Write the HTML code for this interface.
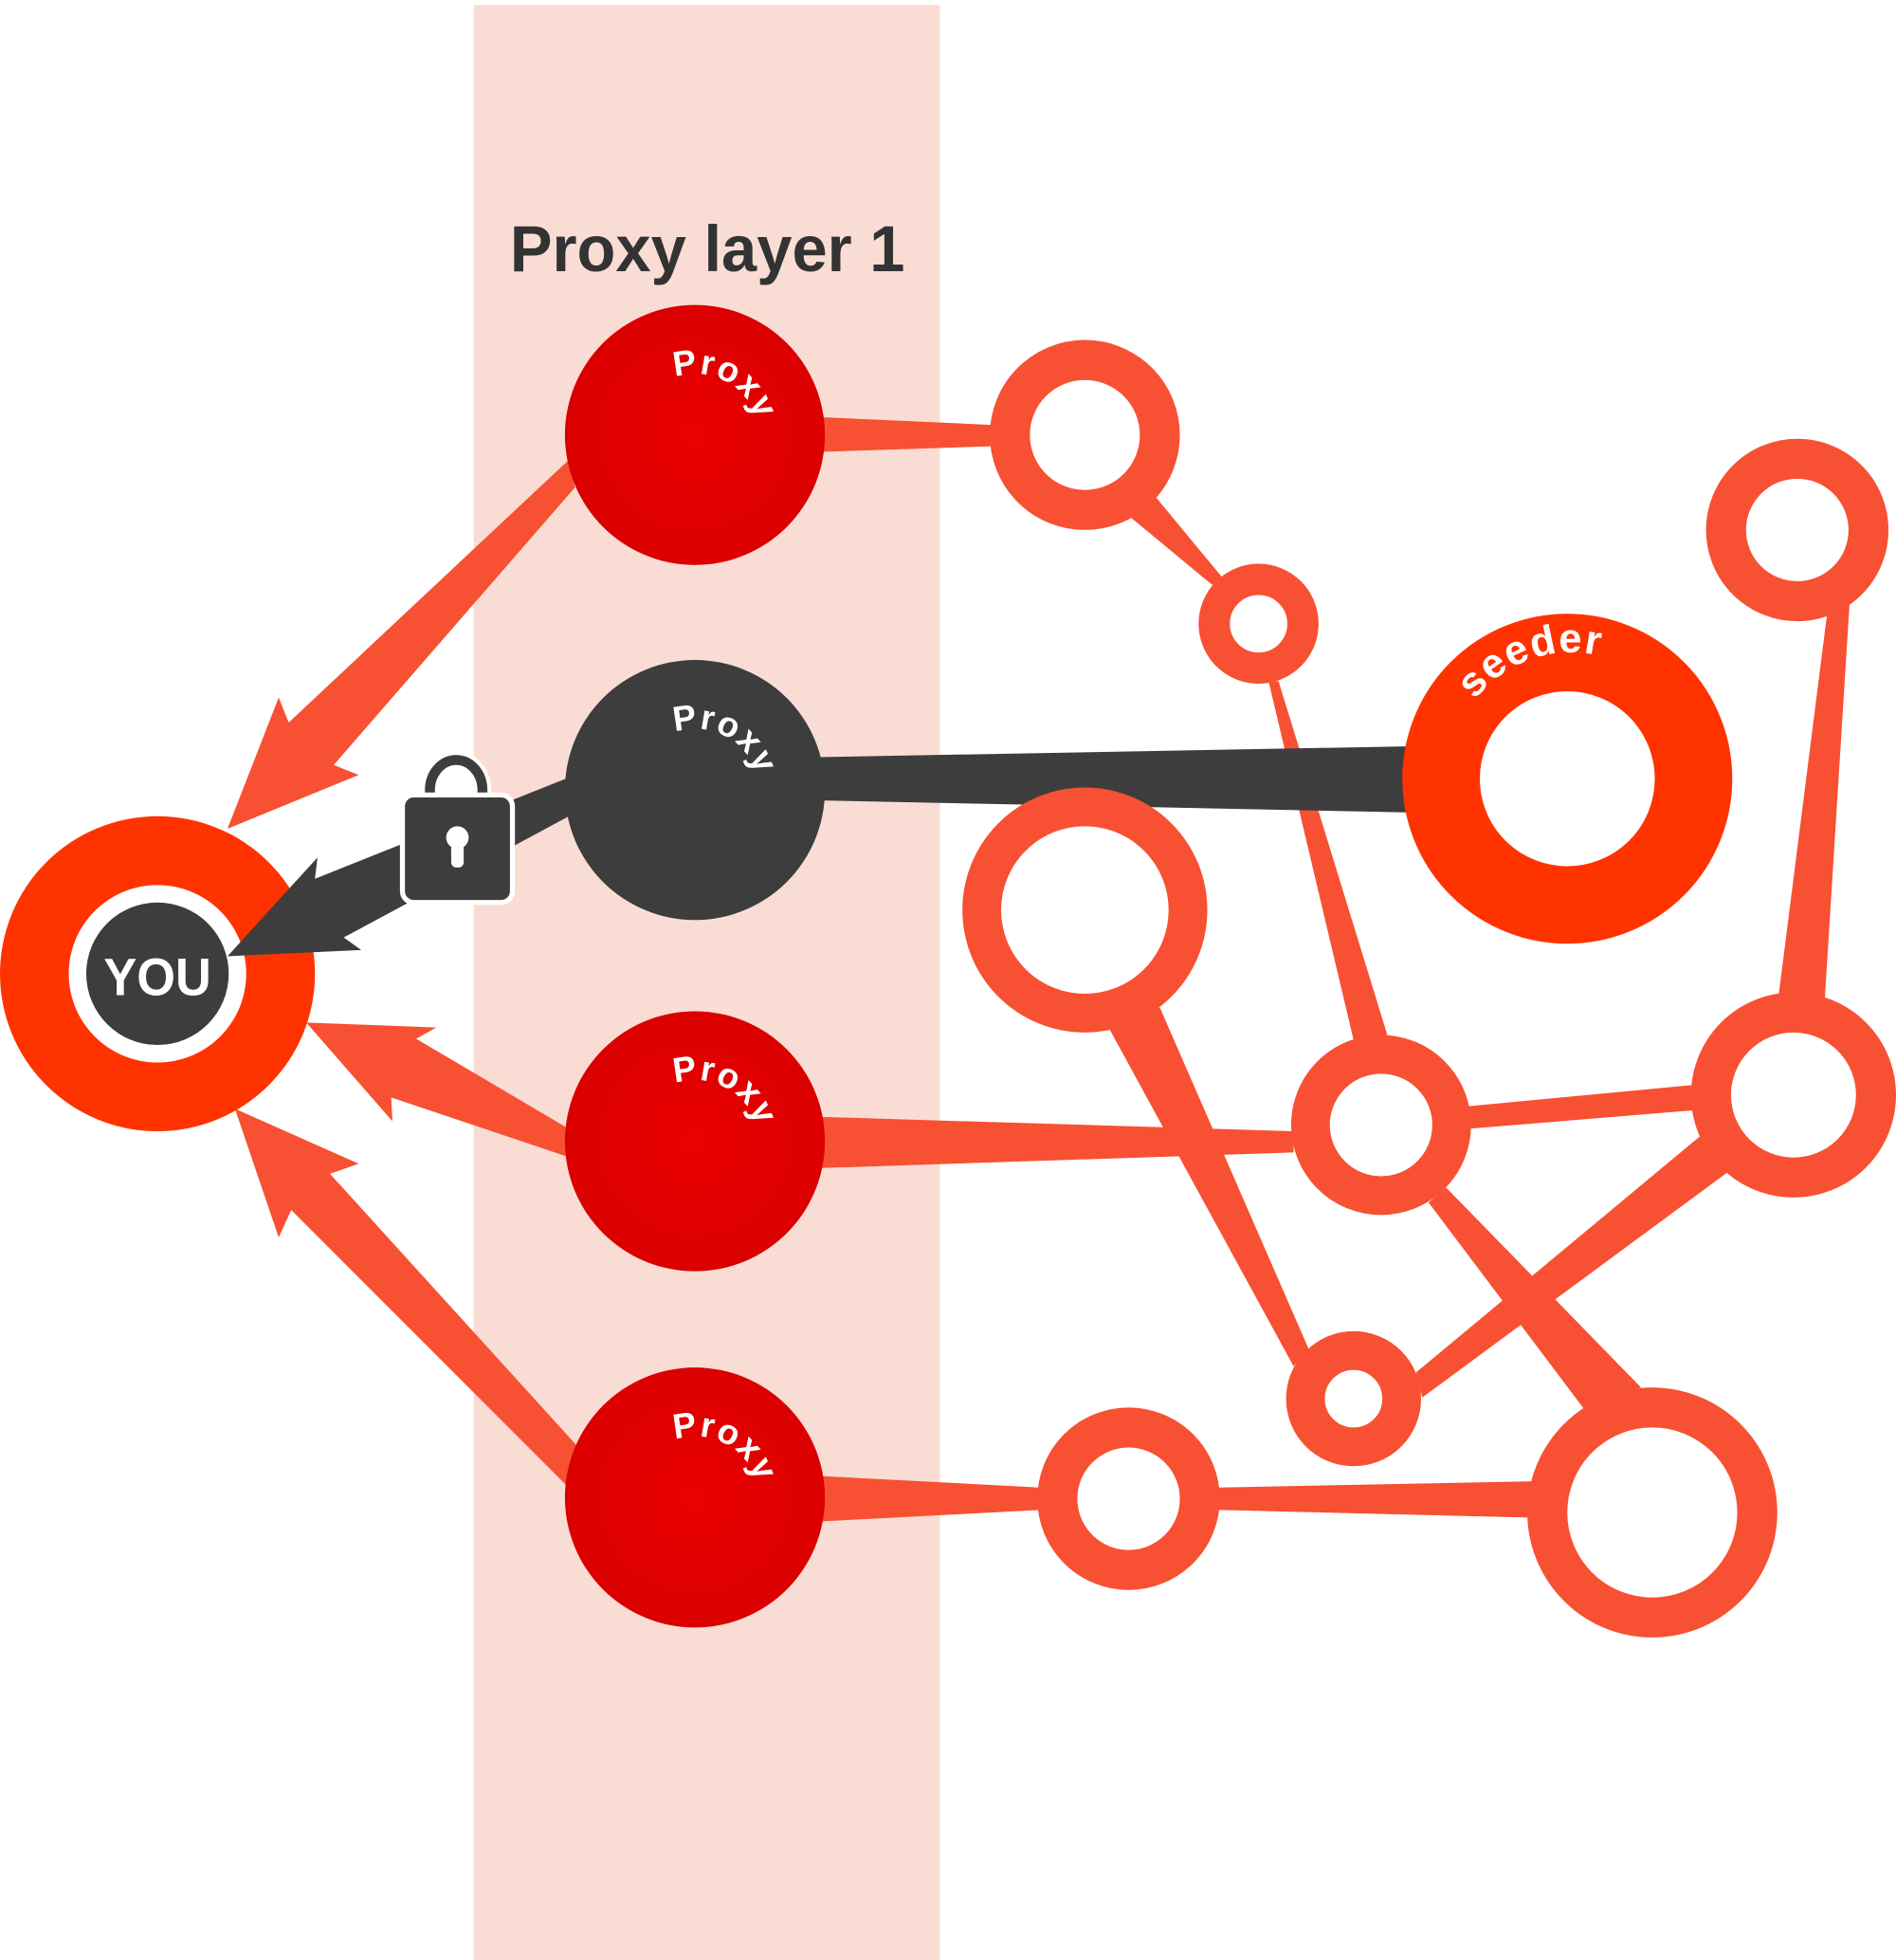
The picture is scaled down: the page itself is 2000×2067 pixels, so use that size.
<!DOCTYPE html>
<html><head><meta charset="utf-8"><style>
html,body{margin:0;padding:0;background:#fff;}
svg{display:block;}
</style></head><body>
<svg width="2000" height="2067" viewBox="0 0 1517 1568" preserveAspectRatio="none" xmlns="http://www.w3.org/2000/svg">
<defs>
<radialGradient id="rg" cx="0.5" cy="0.5" r="0.5">
<stop offset="0" stop-color="#ea0000"/><stop offset="1" stop-color="#db0000"/>
</radialGradient>
<path id="arcP1" d="M 540 302 A 50 50 0 0 1 606 340"/>
<path id="arcP2" d="M 540 586 A 50 50 0 0 1 606 624"/>
<path id="arcP3" d="M 540 867 A 50 50 0 0 1 606 905"/>
<path id="arcP4" d="M 540 1152 A 50 50 0 0 1 606 1190"/>
<path id="arcS" d="M 1180 560 A 97 97 0 0 1 1320 545"/>
</defs>
<rect x="379" y="4" width="373" height="1564" fill="#f9ddd5"/>
<text x="408" y="217" font-family="Liberation Sans, sans-serif" font-weight="bold" font-size="52" fill="#333" textLength="316" lengthAdjust="spacingAndGlyphs">Proxy layer 1</text>

<g fill="#f85032">
<polygon points="640,333 795,340 795,357 640,362"/>
<polygon points="900,410 925,398 978,462 970,468"/>
<polygon points="1015,545 1023,545 1110,828 1083,832"/>
<polygon points="1462,490 1480,480 1460,800 1422,805"/>
<polygon points="1175,885 1355,868 1358,888 1175,903"/>
<polygon points="640,893 1035,905 1035,922 640,935"/>
<polygon points="887,822 928,806 1047,1079 1035,1093"/>
<polygon points="1143,962 1157,950 1313,1110 1268,1128"/>
<polygon points="1133,1098 1365,905 1382,938 1138,1118"/>
<polygon points="640,1180 832,1190 832,1208 640,1218"/>
<polygon points="975,1190 1228,1185 1223,1214 975,1208"/>
<polygon points="460,390 267,612 287,620 182,663 223,558 231,578 455,368"/>
<polygon points="455,903 333,831 349,822 245,818 314,897 313,878 453,925"/>
<polygon points="462,1157 264,939 287,931 188,887 223,990 233,968 453,1188"/>
</g>
<polygon points="640,606 1130,597 1130,650 640,640" fill="#3d3d3d"/>

<!-- ring nodes -->
<g fill="#fff" stroke="#f85032">
<circle cx="868" cy="348" r="60" stroke-width="32"/>
<circle cx="1007" cy="499" r="35.5" stroke-width="25"/>
<circle cx="1438" cy="424" r="57" stroke-width="32"/>
<circle cx="868" cy="728" r="82.5" stroke-width="31"/>
<circle cx="1105" cy="900" r="56.5" stroke-width="31"/>
<circle cx="1435" cy="876" r="66" stroke-width="32"/>
<circle cx="1083" cy="1119" r="38.5" stroke-width="31"/>
<circle cx="903" cy="1199" r="57" stroke-width="32"/>
<circle cx="1322" cy="1210" r="84" stroke-width="32"/>
</g>
<circle cx="1254" cy="623" r="101" fill="#fff" stroke="#ff3300" stroke-width="62"/>
<text font-family="Liberation Sans, sans-serif" font-weight="bold" font-size="33" fill="#fff" letter-spacing="1"><textPath href="#arcS">seeder</textPath></text>

<!-- proxies -->
<circle cx="556" cy="348" r="104" fill="url(#rg)"/>
<circle cx="556" cy="632" r="104" fill="#3d3d3d"/>
<circle cx="556" cy="913" r="104" fill="url(#rg)"/>
<circle cx="556" cy="1198" r="104" fill="url(#rg)"/>
<g font-family="Liberation Sans, sans-serif" font-weight="bold" font-size="28" fill="#fff" letter-spacing="1">
<text><textPath href="#arcP1">Proxy</textPath></text>
<text><textPath href="#arcP2">Proxy</textPath></text>
<text><textPath href="#arcP3">Proxy</textPath></text>
<text><textPath href="#arcP4">Proxy</textPath></text>
</g>

<!-- YOU -->
<circle cx="126" cy="779" r="126" fill="#ff3300"/>
<circle cx="126" cy="779" r="71" fill="#fff"/>
<circle cx="126" cy="779" r="57" fill="#3d3d3d"/>
<text x="126" y="796" text-anchor="middle" font-family="Liberation Sans, sans-serif" font-weight="bold" font-size="42" fill="#fff" textLength="86" lengthAdjust="spacingAndGlyphs">YOU</text>

<polygon points="455,622 252,703 254,686 182,765 289,760 275,750 457,652" fill="#3d3d3d"/>

<!-- lock -->
<path d="M 344 640 L 344 632 A 21 24 0 0 1 386 632 L 386 640" fill="none" stroke="#fff" stroke-width="14"/>
<path d="M 344 640 L 344 632 A 21 24 0 0 1 386 632 L 386 640" fill="none" stroke="#3d3d3d" stroke-width="8"/>
<rect x="322" y="636" width="88" height="86" rx="9" fill="#3d3d3d" stroke="#fff" stroke-width="4"/>
<circle cx="366" cy="670" r="9" fill="#fff"/>
<rect x="361" y="672" width="10" height="22" rx="4" fill="#fff"/>
</svg>
</body></html>
